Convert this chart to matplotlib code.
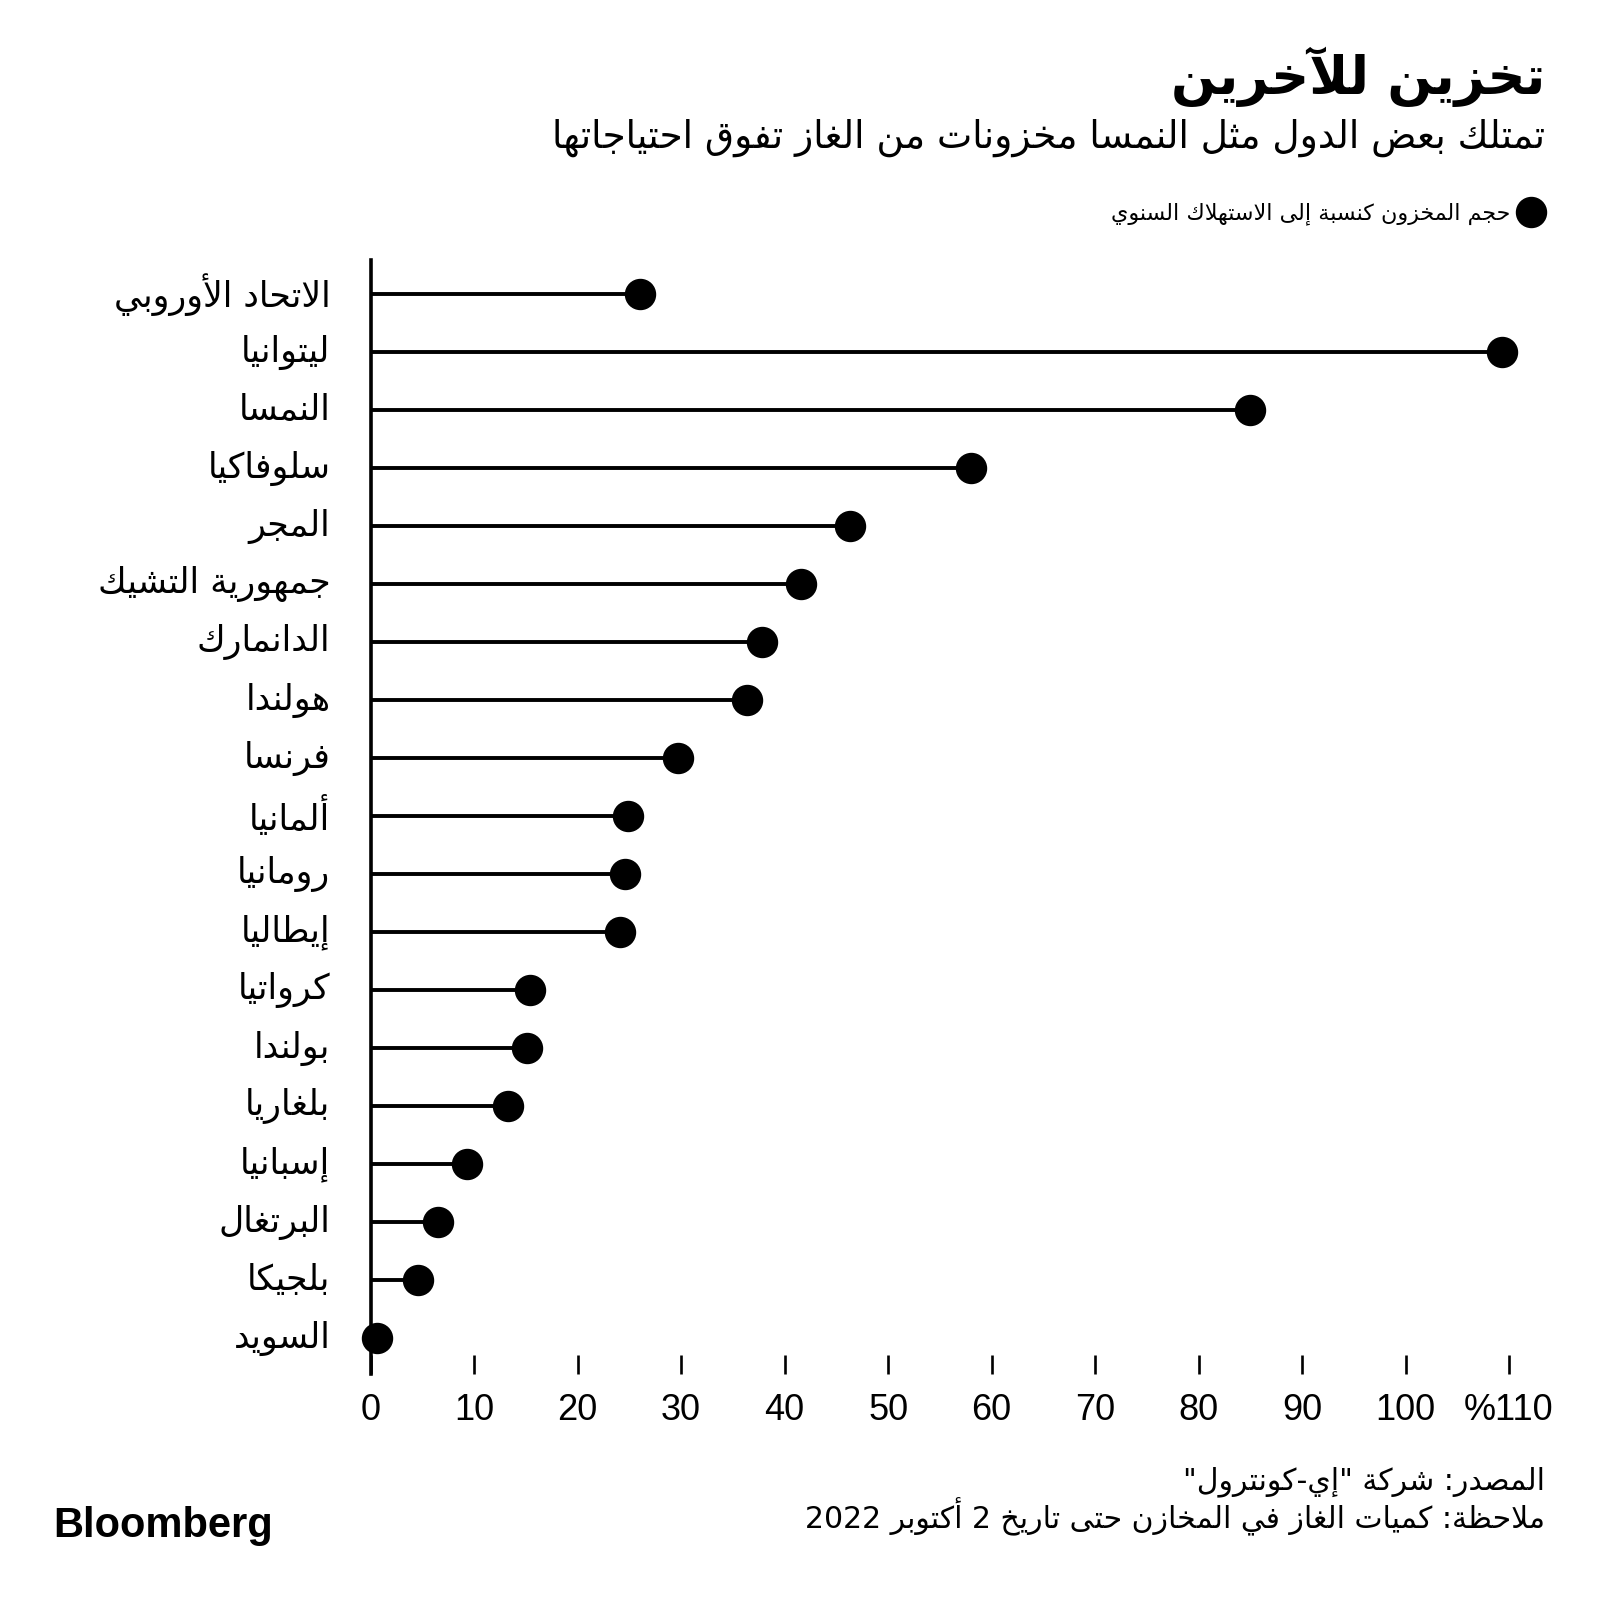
import re
import matplotlib.pyplot as plt

# Data (share of annual consumption held in storage, %)
countries = ["الاتحاد الأوروبي", "ليتوانيا", "النمسا", "سلوفاكيا", "المجر",
             "جمهورية التشيك", "الدانمارك", "هولندا", "فرنسا", "ألمانيا",
             "رومانيا", "إيطاليا", "كرواتيا", "بولندا", "بلغاريا", "إسبانيا",
             "البرتغال", "بلجيكا", "السويد"]
values = [26.0, 109.3, 85.0, 58.0, 46.3, 41.6, 37.8, 36.4, 29.7, 24.9,
          24.6, 24.1, 15.4, 15.1, 13.3, 9.3, 6.5, 4.6, 0.6]
xticks = [0, 10, 20, 30, 40, 50, 60, 70, 80, 90, 100, 110]
xtick_labels = ["0", "10", "20", "30", "40", "50", "60", "70", "80", "90", "100", "%110"]

title = "تخزين للآخرين"
subtitle = "تمتلك بعض الدول مثل النمسا مخزونات من الغاز تفوق احتياجاتها"
legend_label = "حجم المخزون كنسبة إلى الاستهلاك السنوي"
source = 'المصدر: شركة "إي-كونترول"'
note = "ملاحظة: كميات الغاز في المخازن حتى تاريخ 2 أكتوبر 2022"

# matplotlib has no Arabic shaping, so map letters to presentation forms
# letter -> (first form code point, number of forms: iso, fin, ini, med)
FORMS = {
    'ء': (0xFE80, 1), 'آ': (0xFE81, 2), 'أ': (0xFE83, 2), 'ؤ': (0xFE85, 2),
    'إ': (0xFE87, 2), 'ئ': (0xFE89, 4), 'ا': (0xFE8D, 2), 'ب': (0xFE8F, 4),
    'ة': (0xFE93, 2), 'ت': (0xFE95, 4), 'ث': (0xFE99, 4), 'ج': (0xFE9D, 4),
    'ح': (0xFEA1, 4), 'خ': (0xFEA5, 4), 'د': (0xFEA9, 2), 'ذ': (0xFEAB, 2),
    'ر': (0xFEAD, 2), 'ز': (0xFEAF, 2), 'س': (0xFEB1, 4), 'ش': (0xFEB5, 4),
    'ص': (0xFEB9, 4), 'ض': (0xFEBD, 4), 'ط': (0xFEC1, 4), 'ظ': (0xFEC5, 4),
    'ع': (0xFEC9, 4), 'غ': (0xFECD, 4), 'ف': (0xFED1, 4), 'ق': (0xFED5, 4),
    'ك': (0xFED9, 4), 'ل': (0xFEDD, 4), 'م': (0xFEE1, 4), 'ن': (0xFEE5, 4),
    'ه': (0xFEE9, 4), 'و': (0xFEED, 2), 'ى': (0xFEEF, 2), 'ي': (0xFEF1, 4),
}
LAM_ALEF = {'آ': 0xFEF5, 'أ': 0xFEF7, 'إ': 0xFEF9, 'ا': 0xFEFB}


def ar(text):
    items = []
    i = 0
    while i < len(text):
        c = text[i]
        if c == 'ل' and i + 1 < len(text) and text[i + 1] in LAM_ALEF:
            items.append((LAM_ALEF[text[i + 1]], 2))
            i += 2
        elif c in FORMS:
            items.append(FORMS[c])
            i += 1
        else:
            items.append(c)
            i += 1
    out = []
    for k, it in enumerate(items):
        if isinstance(it, str):
            out.append(it)
            continue
        base, n = it
        prev = items[k - 1] if k > 0 else None
        nxt = items[k + 1] if k + 1 < len(items) else None
        jp = isinstance(prev, tuple) and prev[1] == 4
        jn = n == 4 and isinstance(nxt, tuple) and nxt[1] > 1
        if n == 1:
            form = 0
        elif jp and jn:
            form = 3
        elif jp:
            form = 1
        elif jn:
            form = 2
        else:
            form = 0
        out.append(chr(base + form))
    shaped = ''.join(out)
    # visual order: reverse, but keep digit/latin runs left-to-right
    parts = re.split(r'([0-9A-Za-z]+)', shaped)
    parts = [p if re.fullmatch(r'[0-9A-Za-z]+', p) else p[::-1] for p in parts]
    return ''.join(parts[::-1])


W, H = 1600, 1604
fig = plt.figure(figsize=(W / 100, H / 100), dpi=100)
fig.patch.set_facecolor("white")

def fx(x):
    return x / W

def fy(y):
    return 1 - y / H

ax = fig.add_axes([fx(370.7), fy(1374), fx(1509) - fx(370.7), fy(260) - fy(1374)])
ypos = list(range(len(countries)))

ax.hlines(ypos, 0, values, color="black", lw=2.8)
ax.plot(values, ypos, "o", color="black", ms=21.6, clip_on=False)

ax.set_xlim(0, 110)
ax.set_ylim(18.62, -0.59)

for s in ["top", "right", "bottom"]:
    ax.spines[s].set_visible(False)
ax.spines["left"].set_linewidth(2.6)

ax.set_yticks(ypos)
ax.set_yticklabels([ar(c) for c in countries], fontsize=25, family="DejaVu Sans",
                   va="center")
ax.tick_params(axis="y", length=0, pad=29)

ax.set_xticks(xticks)
ax.set_xticklabels(xtick_labels, fontsize=26, family="Liberation Sans")
ax.tick_params(axis="x", direction="in", length=13.7, width=1.9, pad=14)

# title block
fig.text(fx(1545), fy(94), ar(title), ha="right", va="baseline",
         fontsize=38, fontweight="bold", family="DejaVu Sans")
fig.text(fx(1545), fy(148), ar(subtitle), ha="right", va="baseline",
         fontsize=27, family="DejaVu Sans")

# legend
fig.add_artist(plt.Line2D([fx(1531)], [fy(212)], marker="o", color="black", ms=21.6))
fig.text(fx(1510), fy(219), ar(legend_label), ha="right", va="baseline",
         fontsize=16, family="DejaVu Sans")

# footer
fig.text(fx(1545), fy(1489), ar(source), ha="right", va="baseline",
         fontsize=21.5, family="DejaVu Sans")
fig.text(fx(1545), fy(1528), ar(note), ha="right", va="baseline",
         fontsize=21.5, family="DejaVu Sans")
fig.text(fx(53), fy(1537), "Bloomberg", ha="left", va="baseline",
         fontsize=30, fontweight="bold", family="Liberation Sans")

fig.savefig("out.png", dpi=100, facecolor="white")
